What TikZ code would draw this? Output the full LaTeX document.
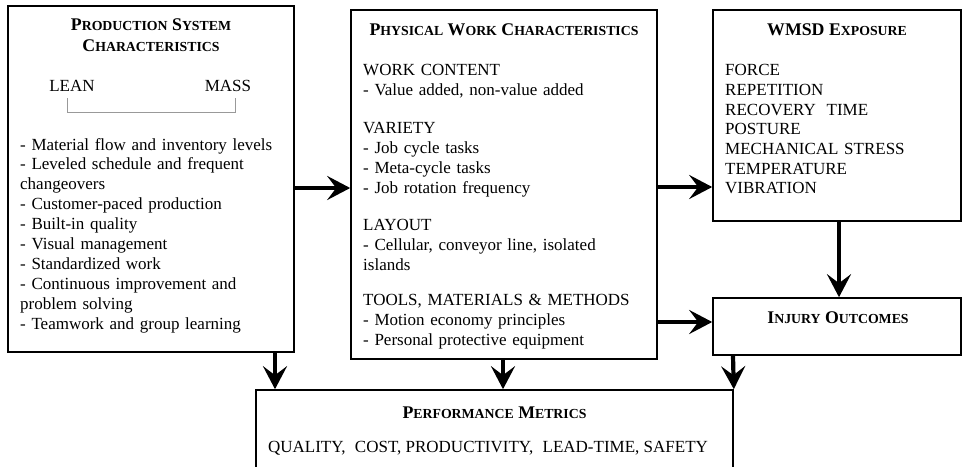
\documentclass[tikz,border=0pt]{standalone}
\usepackage{fontspec}
\setmainfont{Liberation Serif}
\usetikzlibrary{arrows.meta}
% small capitals built from reduced upper-case letters
\newcommand\smc[1]{{\fontsize{13.8}{15}\selectfont #1}}
\begin{document}
\begin{tikzpicture}[x=1pt,y=-1pt,
  box/.style={draw, line width=1.6pt, rectangle, inner sep=0pt},
  arr/.style={line width=4.2pt, -{Stealth[length=23pt,width=24pt,inset=9pt]}},
  body/.style={font=\fontsize{17}{19.9}\selectfont, inner sep=0pt, align=left,
               text width=290pt, anchor=base west},
  ttl/.style={font=\bfseries\fontsize{17.8}{20}\selectfont, inner sep=0pt, anchor=base},
  plain/.style={font=\fontsize{17}{20}\selectfont, inner sep=0pt, anchor=base}]
\useasboundingbox (0,0) rectangle (964,466);

% boxes
\node[box, minimum width=286pt, minimum height=346pt] (psc) at (151,179) {};
\node[box, minimum width=306pt, minimum height=349pt] (pwc) at (504,184.5) {};
\node[box, minimum width=248pt, minimum height=211pt] (wmsd) at (837,115.5) {};
\node[box, minimum width=248pt, minimum height=57pt] (inj) at (837,326.5) {};
\node[box, minimum width=477pt, minimum height=90pt] (perf) at (494.5,435) {};

% production system characteristics
\node[ttl] (psct1) at (151,30.6) {P\smc{RODUCTION} S\smc{YSTEM}};
\node[ttl] (psct2) at (151,51.6) {C\smc{HARACTERISTICS}};
\node[plain] (lean) at (72,91.6) {LEAN};
\node[plain] (mass) at (228,91.6) {MASS};
\draw[gray!80, line width=0.9pt] (67,98) -- (67,112) -- (235,112) -- (235,98);
\node[body] (pscl) at (20,150) {- Material flow and inventory levels\\
- Leveled schedule and frequent\\
changeovers\\
- Customer-paced production\\
- Built-in quality\\
- Visual management\\
- Standardized work\\
- Continuous improvement and\\
problem solving\\
- Teamwork and group learning};

% physical work characteristics
\node[ttl] (pwct) at (504,35.6) {P\smc{HYSICAL} W\smc{ORK} C\smc{HARACTERISTICS}};
\node[body] (pwc1) at (363,75.6) {WORK CONTENT\\
- Value added, non-value added};
\node[body] (pwc2) at (363,133.6) {VARIETY\\
- Job cycle tasks\\
- Meta-cycle tasks\\
- Job rotation frequency};
\node[body] (pwc3) at (363,230.6) {LAYOUT\\
- Cellular, conveyor line, isolated\\
islands};
\node[body] (pwc4) at (363,305.6) {TOOLS, MATERIALS \& METHODS\\
- Motion economy principles\\
- Personal protective equipment};

% exposure
\node[ttl] (wmsdt) at (837,35.6) {WMSD E\smc{XPOSURE}};
\node[body, text width=230pt, font=\fontsize{17}{19.7}\selectfont] (wmsdl) at (725,75.6) {FORCE\\
REPETITION\\
RECOVERY\hspace{0.3em} TIME\\
POSTURE\\
MECHANICAL STRESS\\
TEMPERATURE\\
VIBRATION};

% outcomes and metrics
\node[ttl] (injt) at (838,323.6) {I\smc{NJURY} O\smc{UTCOMES}};
\node[ttl] (perft) at (494.5,418) {P\smc{ERFORMANCE} M\smc{ETRICS}};
\node[plain] (perfl) at (488,452) {QUALITY,\hspace{0.3em} COST, PRODUCTIVITY,\hspace{0.3em} LEAD-TIME, SAFETY};

% connectors
\draw[arr] (psc.east |- 0,188) -- (pwc.west |- 0,188);
\draw[arr] (pwc.east |- 0,187) -- (wmsd.west |- 0,187);
\draw[arr] (pwc.east |- 0,322) -- (inj.west |- 0,322);
\draw[arr] (839,0 |- wmsd.south) -- (839,0 |- inj.north);
\draw[arr] (275,0 |- psc.south) -- (275,0 |- perf.north);
\draw[arr] (503,0 |- pwc.south) -- (503,0 |- perf.north);
\draw[arr] (733,0 |- inj.south) -- (perf.north east);
\end{tikzpicture}
\end{document}
